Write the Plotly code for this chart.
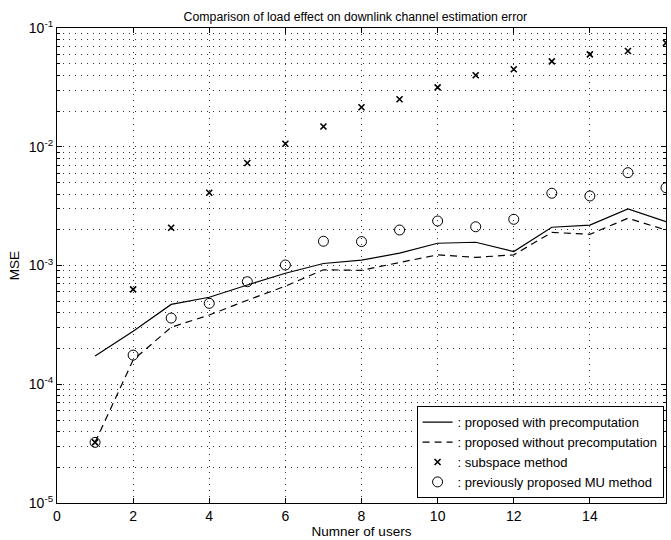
import plotly.graph_objects as go

users = list(range(1, 17))
with_pre = [1.73e-4, 2.8e-4, 4.7e-4, 5.4e-4, 6.85e-4, 8.6e-4, 1.04e-3, 1.11e-3,
            1.27e-3, 1.54e-3, 1.57e-3, 1.31e-3, 2.1e-3, 2.19e-3, 2.99e-3, 2.34e-3]
without_pre = [3.24e-5, 1.6e-4, 3.02e-4, 3.83e-4, 5.1e-4, 6.7e-4, 9.2e-4, 9.1e-4,
               1.06e-3, 1.23e-3, 1.17e-3, 1.23e-3, 1.9e-3, 1.83e-3, 2.5e-3, 1.99e-3]
subspace = [3.24e-5, 6.3e-4, 2.08e-3, 4.1e-3, 7.3e-3, 1.06e-2, 1.48e-2, 2.15e-2,
            2.51e-2, 3.16e-2, 4.0e-2, 4.49e-2, 5.24e-2, 6.0e-2, 6.4e-2, 7.5e-2]
mu_method = [3.24e-5, 1.76e-4, 3.61e-4, 4.8e-4, 7.3e-4, 1.01e-3, 1.6e-3, 1.59e-3,
             1.99e-3, 2.37e-3, 2.12e-3, 2.45e-3, 4.06e-3, 3.85e-3, 6.05e-3, 4.52e-3]

x_ticks = [0, 2, 4, 6, 8, 10, 12, 14, 16]
decades = [-5, -4, -3, -2, -1]

FONT = "Liberation Sans, Arial, Helvetica, sans-serif"

major_vals = [10.0 ** d for d in decades]
major_text = [f"10<sup>{d}</sup>" for d in decades]
minor_vals = [k * 10.0 ** d for d in decades[:-1] for k in range(2, 10)]

fig = go.Figure()
fig.add_trace(go.Scatter(x=users, y=with_pre, mode="lines",
                         line=dict(color="black", width=1.2),
                         name=": proposed with precomputation"))
fig.add_trace(go.Scatter(x=users, y=without_pre, mode="lines",
                         line=dict(color="black", width=1.2, dash="7px,5px"),
                         name=": proposed without precomputation"))
fig.add_trace(go.Scatter(x=users, y=subspace, mode="markers",
                         marker=dict(symbol="x-thin", size=6, color="black",
                                     line=dict(color="black", width=1.6)),
                         name=": subspace method"))
fig.add_trace(go.Scatter(x=users, y=mu_method, mode="markers",
                         marker=dict(symbol="circle-open", size=10, color="black",
                                     line=dict(color="black", width=1)),
                         name=": previously proposed MU method"))

GRID = dict(gridcolor="#333", griddash="1px,5px", gridwidth=1)
axis_common = dict(showline=True, linecolor="black", linewidth=1.2, mirror="ticks",
                   ticks="inside", ticklen=5, tickcolor="black", zeroline=False,
                   showgrid=True, **GRID,
                   tickfont=dict(family=FONT, size=14, color="black"))

fig.update_xaxes(range=[0, 16], tickvals=x_ticks, ticktext=[str(v) for v in x_ticks],
                 title=dict(text="Numner of users", font=dict(family=FONT, size=13.5, color="black"),
                            standoff=2),
                 **axis_common)
fig.update_yaxes(type="log", range=[-5, -1], tickvals=major_vals, ticktext=major_text,
                 minor=dict(tickmode="array", tickvals=minor_vals, ticks="inside", ticklen=3,
                            tickcolor="black", showgrid=True, **GRID),
                 title=dict(text="MSE", font=dict(family=FONT, size=13.5, color="black"),
                            standoff=6),
                 **axis_common)

fig.update_layout(
    width=671, height=540,
    margin=dict(l=57, r=5, t=28, b=37),
    paper_bgcolor="white", plot_bgcolor="white",
    title=dict(text="Comparison of load effect on downlink channel estimation error",
               x=0.49, xref="paper", xanchor="center",
               y=1, yref="paper", yanchor="bottom", pad=dict(b=7),
               font=dict(family=FONT, size=12.3, color="black")),
    legend=dict(x=0.996, xanchor="right", y=0.01, yanchor="bottom",
                bgcolor="white", bordercolor="black", borderwidth=1,
                font=dict(family=FONT, size=13, color="black"),
                itemwidth=30, tracegroupgap=0),
    showlegend=True,
)

fig.write_html("out.html")
